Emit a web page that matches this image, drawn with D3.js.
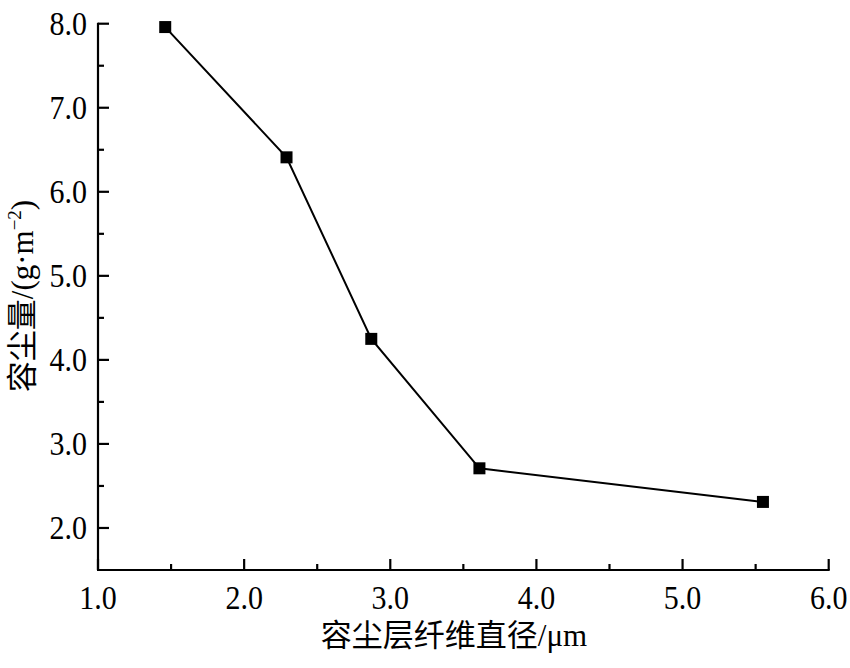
<!DOCTYPE html>
<html lang="zh">
<head>
    <meta charset="utf-8">
    <title>容尘量</title>
    <script src="https://d3js.org/d3.v7.min.js"></script>
    <style>
        body { margin: 0; background: #fff; }
        svg { display: block; }
        text { font-family: "Liberation Serif", "Noto Sans CJK SC", serif; fill: #000; }
    </style>
</head>
<body>
<script>
    // data
    var diameter = [1.46, 2.29, 2.87, 3.61, 5.55];
    var capacity = [7.96, 6.41, 4.25, 2.71, 2.31];
    var xTicks = [1, 2, 3, 4, 5, 6];
    var yTicks = [2, 3, 4, 5, 6, 7, 8];
    var xMinor = [1.5, 2.5, 3.5, 4.5, 5.5];
    var yMinor = [2.5, 3.5, 4.5, 5.5, 6.5, 7.5];

    var width = 850, height = 668;
    var mLeft = 98, mRight = 828.7, mTop = 23.7, mBottom = 570;

    var svg = d3.select("body").append("svg")
        .attr("width", width)
        .attr("height", height);

    var x = d3.scaleLinear().domain([1, 6]).range([mLeft, mRight]);
    var y = d3.scaleLinear().domain([1.5, 8]).range([mBottom, mTop]);
    var fmt = d3.format(".1f");

    // x axis, ticks pointing inward
    var gx = svg.append("g").attr("transform", "translate(0," + mBottom + ")");
    gx.append("line").attr("x1", mLeft - 1).attr("x2", mRight + 1)
        .attr("stroke", "#000").attr("stroke-width", 2.2);
    gx.selectAll(".major").data(xTicks).enter().append("line")
        .attr("x1", d => x(d)).attr("x2", d => x(d))
        .attr("y1", 0).attr("y2", -11)
        .attr("stroke", "#000").attr("stroke-width", 2.2);
    gx.selectAll(".minor").data(xMinor).enter().append("line")
        .attr("x1", d => x(d)).attr("x2", d => x(d))
        .attr("y1", 0).attr("y2", -6)
        .attr("stroke", "#000").attr("stroke-width", 2.2);
    gx.selectAll("text").data(xTicks).enter().append("text")
        .attr("transform", d => "translate(" + x(d) + ",39) scale(1,1.12)")
        .attr("text-anchor", "middle")
        .attr("font-size", 30)
        .text(fmt);

    // y axis
    var gy = svg.append("g").attr("transform", "translate(" + mLeft + ",0)");
    gy.append("line").attr("y1", mTop - 1).attr("y2", mBottom)
        .attr("stroke", "#000").attr("stroke-width", 2.2);
    gy.selectAll(".major").data(yTicks).enter().append("line")
        .attr("y1", d => y(d)).attr("y2", d => y(d))
        .attr("x1", 0).attr("x2", 11)
        .attr("stroke", "#000").attr("stroke-width", 2.2);
    gy.selectAll(".minor").data(yMinor).enter().append("line")
        .attr("y1", d => y(d)).attr("y2", d => y(d))
        .attr("x1", 0).attr("x2", 6)
        .attr("stroke", "#000").attr("stroke-width", 2.2);
    gy.selectAll("text").data(yTicks).enter().append("text")
        .attr("transform", d => "translate(-11," + (y(d) + 11) + ") scale(1,1.12)")
        .attr("text-anchor", "end")
        .attr("font-size", 30)
        .text(fmt);

    // line + square markers
    var pts = diameter.map((d, i) => [d, capacity[i]]);
    svg.append("path")
        .datum(pts)
        .attr("fill", "none")
        .attr("stroke", "#000")
        .attr("stroke-width", 2)
        .attr("d", d3.line().x(d => x(d[0])).y(d => y(d[1])));
    svg.selectAll(".pt").data(pts).enter().append("rect")
        .attr("x", d => x(d[0]) - 6)
        .attr("y", d => y(d[1]) - 6)
        .attr("width", 12).attr("height", 12)
        .attr("fill", "#000");

    // axis titles
    svg.append("text")
        .attr("x", 454).attr("y", 646)
        .attr("text-anchor", "middle")
        .attr("font-size", 31)
        .text("容尘层纤维直径/μm");

    var yl = svg.append("text")
        .attr("transform", "translate(33,296) rotate(-90)")
        .attr("text-anchor", "middle")
        .attr("font-size", 31);
    yl.append("tspan").text("容尘量/(g·m");
    yl.append("tspan").attr("font-size", 19).attr("dy", -12).text("−2");
    yl.append("tspan").attr("dy", 12).text(")");
</script>
</body>
</html>
